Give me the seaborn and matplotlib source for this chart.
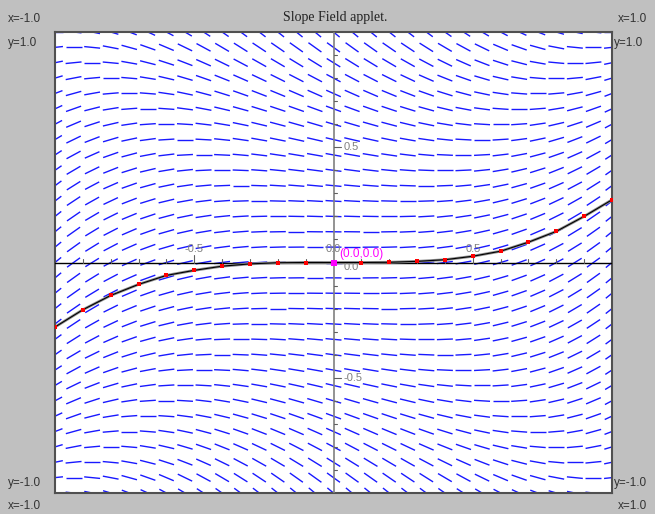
import numpy as np
import seaborn as sns
from matplotlib import pyplot as plt
from matplotlib.collections import LineCollection

# equation shown by the slope field: dy/dx = x^2 - y^2
def slope(x, y):
    return x**2 - y**2

# solution through (0,0), Euler steps of 0.1
step_x = [-1.0, -0.9, -0.8, -0.7, -0.6, -0.5, -0.4, -0.3, -0.2, -0.1, 0.0,
          0.1, 0.2, 0.3, 0.4, 0.5, 0.6, 0.7, 0.8, 0.9, 1.0]
step_y = [-0.28, -0.205, -0.143, -0.095, -0.056, -0.034, -0.016, -0.006, -0.001, 0.0, 0.0,
          0.0, 0.001, 0.005, 0.012, 0.027, 0.049, 0.088, 0.135, 0.2, 0.272]

field_pos = np.linspace(-1, 1, 31)
tick_vals = [-0.9, -0.8, -0.7, -0.6, -0.5, -0.4, -0.3, -0.2, -0.1,
             0.1, 0.2, 0.3, 0.4, 0.5, 0.6, 0.7, 0.8, 0.9]
label_vals = [-0.5, 0.5]

sns.set_style("white")
fig = plt.figure(figsize=(6.55, 5.14), dpi=100, facecolor="#c0c0c0")
ax = fig.add_axes([55 / 655, 21 / 514, 557 / 655, 461 / 514])
ax.set_xlim(-1, 1)
ax.set_ylim(-1, 1)
ax.set_xticks([])
ax.set_yticks([])
for s in ax.spines.values():
    s.set_color("#505050")
    s.set_linewidth(1.5)

sx = 557 / 2  # pixels per unit
sy = 461 / 2
half = 8.0  # half segment length in pixels

segs = []
for x in field_pos:
    for y in field_pos:
        m = slope(x, y)
        ux, uy = 1.0, m * sy / sx
        n = np.hypot(ux, uy)
        dx = half * ux / n / sx
        dy = half * uy / n / sy
        segs.append([(x - dx, y - dy), (x + dx, y + dy)])
ax.add_collection(LineCollection(segs, colors="#0000ff", linewidths=1.0, alpha=0.9))

# axes through origin
ax.axhline(0, color="black", lw=1.0, zorder=3)
ax.axvline(0, color="#808080", lw=1.2, zorder=3)
for t in tick_vals:
    big = abs(t) == 0.5
    ax.plot([t, t], [0, (8 if big else 4) / sy], color="#606060", lw=0.8, zorder=3)
    ax.plot([0, (7 if big else 3) / sx], [t, t], color="#606060", lw=0.8, zorder=3)
for t in label_vals:
    ax.text(t, 14 / sy, f"{t:.1f}", color="#808080", fontsize=8,
            family="Liberation Sans", ha="center", va="center")
    ax.text(10 / sx, t, f"{t:.1f}", color="#808080", fontsize=8,
            family="Liberation Sans", ha="left", va="center")
ax.text(0, 14 / sy, "0.0", color="#808080", fontsize=8,
        family="Liberation Sans", ha="center", va="center")
ax.text(10 / sx, -4 / sy, "0.0", color="#808080", fontsize=8,
        family="Liberation Sans", ha="left", va="center")

# solution curve
sns.lineplot(x=step_x, y=step_y, color="#909090", lw=2.0, ax=ax, zorder=4, sort=False)
sns.lineplot(x=step_x, y=step_y, color="black", lw=0.8, ax=ax, zorder=5, sort=False)
sns.scatterplot(x=step_x, y=step_y, color="red", marker="s", s=9, linewidth=0,
                ax=ax, zorder=6)

ax.scatter([0], [0], marker="s", s=22, color="#ff00ff", zorder=7, linewidths=0)
ax.text(6 / sx, 9 / sy, "(0.0,0.0)", color="#ff00ff", fontsize=8.5,
        family="Liberation Sans", ha="left", va="center", zorder=7)

# frame labels
fig.text(335 / 655, 1 - 17 / 514, "Slope Field applet.", family="Liberation Serif",
         fontsize=10, ha="center", va="center", color="#222222")
corner = dict(family="Liberation Sans", fontsize=8.5, color="#333333", va="center")
fig.text(8 / 655, 1 - 19 / 514, "x=-1.0", ha="left", **corner)
fig.text(8 / 655, 1 - 43 / 514, "y=1.0", ha="left", **corner)
fig.text(8 / 655, 1 - 483 / 514, "y=-1.0", ha="left", **corner)
fig.text(8 / 655, 1 - 506 / 514, "x=-1.0", ha="left", **corner)
fig.text(618 / 655, 1 - 19 / 514, "x=1.0", ha="left", **corner)
fig.text(614 / 655, 1 - 43 / 514, "y=1.0", ha="left", **corner)
fig.text(614 / 655, 1 - 483 / 514, "y=-1.0", ha="left", **corner)
fig.text(618 / 655, 1 - 506 / 514, "x=1.0", ha="left", **corner)

fig.savefig("out.png", dpi=100, facecolor=fig.get_facecolor())
